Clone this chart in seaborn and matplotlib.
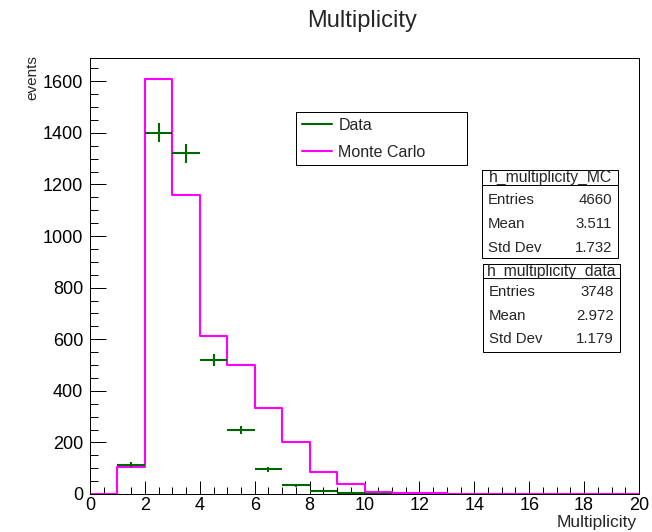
import numpy as np
import pandas as pd
import matplotlib
matplotlib.use("Agg")
import matplotlib.pyplot as plt
import seaborn as sns
from matplotlib.patches import Rectangle
from matplotlib.lines import Line2D
from matplotlib.ticker import MultipleLocator

# ---------------- data ----------------
bin_edges = list(range(0, 21))
mc_counts = [0, 105, 1610, 1160, 611, 499, 333, 201, 86, 40, 8, 4, 2, 1, 0, 0, 0, 0, 0, 0]
data_counts = [0, 114, 1400, 1320, 518, 248, 96, 34, 12, 5, 1, 0, 0, 0, 0, 0, 0, 0, 0, 0]
x_ticks = [0, 2, 4, 6, 8, 10, 12, 14, 16, 18, 20]
y_ticks = [0, 200, 400, 600, 800, 1000, 1200, 1400, 1600]
legend_labels = ["Data", "Monte Carlo"]
stats_mc_title = "h_multiplicity_MC"
stats_data_title = "h_multiplicity_data"
stats_names = ["Entries", "Mean", "Std Dev"]
stats_mc_values = ["4660", "3.511", "1.732"]
stats_data_values = ["3748", "2.972", "1.179"]

W, H = 652, 532
GREEN = "#006600"
MAGENTA = "#ff00ff"

sns.set_theme(style="white")
plt.rcParams["font.family"] = ["Liberation Sans", "DejaVu Sans"]

fig = plt.figure(figsize=(W / 100, H / 100), dpi=100)
fig.patch.set_facecolor("white")
ax = fig.add_axes([90 / W, 1 - 494 / H, 549 / W, 436 / H])
ax.set_facecolor("white")

centers = [e + 0.5 for e in bin_edges[:-1]]
df_mc = pd.DataFrame({"x": centers, "w": mc_counts})
sns.histplot(data=df_mc, x="x", weights="w", bins=bin_edges, element="step",
             fill=False, color=MAGENTA, linewidth=1.5, ax=ax, zorder=2)

dd = pd.DataFrame({"x": centers, "y": data_counts})
dd = dd[dd["y"] > 0]
ax.errorbar(dd["x"], dd["y"], xerr=0.5, yerr=np.sqrt(dd["y"]), fmt="none",
            ecolor=GREEN, elinewidth=1.5, capsize=0, zorder=3)

ax.set_xlim(0, 20)
ax.set_ylim(0, 1690)
ax.set_xticks(x_ticks)
ax.set_yticks(y_ticks)
ax.xaxis.set_minor_locator(MultipleLocator(0.5))
ax.yaxis.set_minor_locator(MultipleLocator(50))
ax.tick_params(which="both", direction="in", top=False, right=False,
               bottom=True, left=True, colors="black", width=0.72, labelsize=13)
ax.tick_params(axis="x", which="major", length=9.4, pad=2.5)
ax.tick_params(axis="x", which="minor", length=4.7)
ax.tick_params(axis="y", which="major", length=11.8, pad=5)
ax.tick_params(axis="y", which="minor", length=5.9)
for s in ax.spines.values():
    s.set_visible(True)
    s.set_color("black")
    s.set_linewidth(0.72)

ax.set_xlabel("Multiplicity", loc="right", fontsize=12.5)
ax.xaxis.set_label_coords(1.0 - 2 / 549, (494 - 515) / 436)
ax.set_ylabel("events", loc="top", fontsize=11)
ax.yaxis.set_label_coords((39 - 90) / 549, 1.0 + 3 / 436)

fig.text(362 / W, 1 - 21 / H, "Multiplicity", ha="center", va="center", fontsize=17)

# legend
handles = [Line2D([], [], color=GREEN, lw=1.5), Line2D([], [], color=MAGENTA, lw=1.5)]
leg = ax.legend(handles, legend_labels, loc="upper left",
                bbox_to_anchor=(296 / W, 1 - 167 / H, 171 / W, 55 / H),
                bbox_transform=fig.transFigure, mode="expand", frameon=True,
                fancybox=False, edgecolor="black", framealpha=1, fontsize=11.5,
                handlelength=1.9, handletextpad=0.4, borderpad=0.35,
                labelspacing=0.75, borderaxespad=0)
leg.get_frame().set_linewidth(0.72)


def fx(x):
    return x / W


def fy(y):
    return 1 - y / H


def stats_box(x0, y0, x1, y1, ysep, title, ytitle, rows_y, values):
    fig.add_artist(Rectangle((fx(x0), fy(y1)), fx(x1) - fx(x0), fy(y0) - fy(y1),
                             transform=fig.transFigure, facecolor="white",
                             edgecolor="black", linewidth=0.72, zorder=5))
    fig.add_artist(Line2D([fx(x0), fx(x1)], [fy(ysep), fy(ysep)],
                          transform=fig.transFigure, color="black", lw=0.72, zorder=6))
    fig.text(fx((x0 + x1) / 2), fy(ytitle), title, ha="center", va="center",
             fontsize=11.3, zorder=7)
    for name, val, yy in zip(stats_names, values, rows_y):
        fig.text(fx(x0 + 6), fy(yy), name, ha="left", va="center", fontsize=10.8, zorder=7)
        fig.text(fx(x1 - 6), fy(yy), val, ha="right", va="center", fontsize=10.8, zorder=7)


stats_box(482, 170, 618, 258, 185, stats_mc_title, 177.5, [200, 224, 247.5], stats_mc_values)
stats_box(483, 264, 620, 352, 278, stats_data_title, 271.5, [292, 315.5, 339], stats_data_values)

fig.savefig("out.png", dpi=100, facecolor="white")
